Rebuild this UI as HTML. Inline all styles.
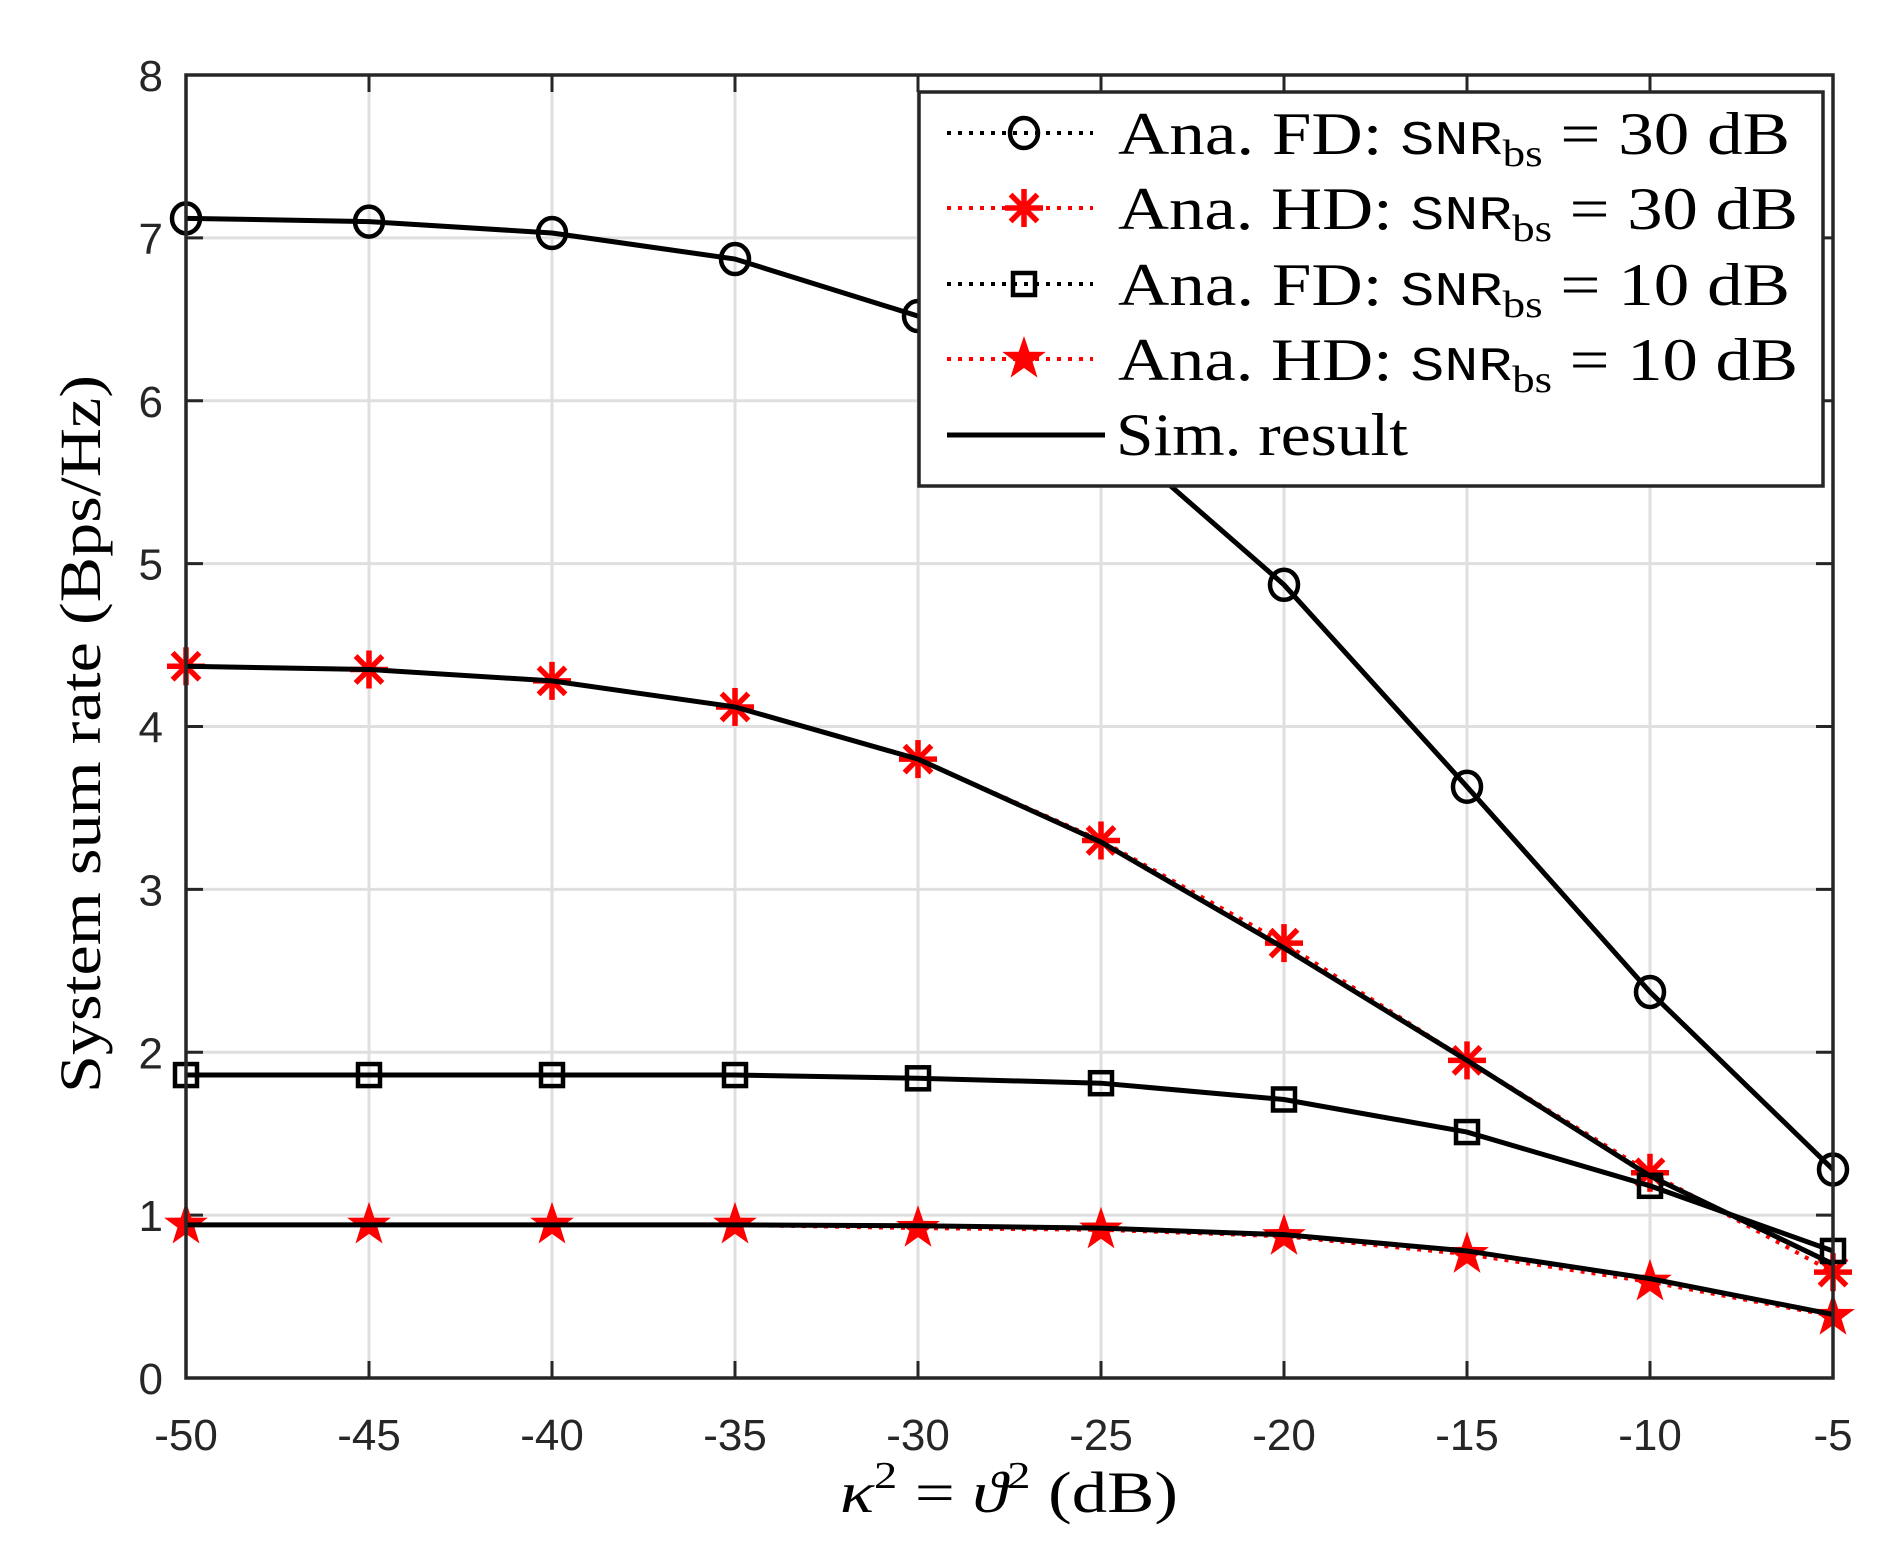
<!DOCTYPE html>
<html><head><meta charset="utf-8"><style>
html,body{margin:0;padding:0;background:#fff;}
svg{display:block;}
.tk{font-family:"Liberation Sans",sans-serif;font-size:44px;fill:#262626;}
.sf{font-family:"Liberation Serif",serif;fill:#000;}
</style></head><body>
<svg id="s" width="1893" height="1566" viewBox="0 0 1893 1566" xmlns="http://www.w3.org/2000/svg"></svg>
<script>
const s=document.getElementById('s');
const L=186,R=1833,T=75,B=1378;
const X=v=>L+(v+50)/45*(R-L), Y=v=>B-v/8*(B-T);
let h='';
for(let i=0;i<10;i++){const x=X(-50+5*i);h+=`<line x1="${x}" y1="${T}" x2="${x}" y2="${B}" stroke="#dfdfdf" stroke-width="3"/>`;}
for(let j=0;j<=8;j++){const y=Y(j);h+=`<line x1="${L}" y1="${y}" x2="${R}" y2="${y}" stroke="#dfdfdf" stroke-width="3"/>`;}
for(let i=0;i<10;i++){const x=X(-50+5*i);h+=`<line x1="${x}" y1="${B}" x2="${x}" y2="${B-17}" stroke="#262626" stroke-width="3"/><line x1="${x}" y1="${T}" x2="${x}" y2="${T+17}" stroke="#262626" stroke-width="3"/>`;
h+=`<text class="tk" x="${x}" y="1450" text-anchor="middle">${-50+5*i}</text>`;}
for(let j=0;j<=8;j++){const y=Y(j);h+=`<line x1="${L}" y1="${y}" x2="${L+17}" y2="${y}" stroke="#262626" stroke-width="3"/><line x1="${R}" y1="${y}" x2="${R-17}" y2="${y}" stroke="#262626" stroke-width="3"/>`;
h+=`<text class="tk" x="163" y="${y+16}" text-anchor="end">${j}</text>`;}
const xs=[-50,-45,-40,-35,-30,-25,-20,-15,-10,-5];
const fd30=[7.12,7.10,7.03,6.87,6.52,5.85,4.87,3.63,2.37,1.28];
const hd30=[4.37,4.35,4.28,4.12,3.80,3.30,2.67,1.95,1.26,0.65];
const hd30s=[4.37,4.35,4.28,4.12,3.80,3.29,2.64,1.95,1.24,0.70];
const fd10=[1.86,1.86,1.86,1.86,1.84,1.81,1.71,1.51,1.18,0.78];
const hd10=[0.94,0.94,0.94,0.94,0.92,0.91,0.87,0.76,0.59,0.38];
const hd10s=[0.94,0.94,0.94,0.94,0.935,0.92,0.88,0.78,0.61,0.39];
const pl=(a)=>xs.map((x,i)=>X(x)+','+Y(a[i])).join(' ');
function circ(x,y){return `<ellipse cx="${x}" cy="${y}" rx="14" ry="15" fill="none" stroke="#000" stroke-width="4.5"/>`;}
function sq(x,y){return `<rect x="${x-11}" y="${y-11}" width="22" height="22" fill="none" stroke="#000" stroke-width="4.5"/>`;}
function ast(x,y){let r=19,o='';for(let k=0;k<4;k++){const a=k*Math.PI/4+Math.PI/2;o+=`<line x1="${x-r*Math.cos(a)}" y1="${y-r*Math.sin(a)}" x2="${x+r*Math.cos(a)}" y2="${y+r*Math.sin(a)}" stroke="#f00" stroke-width="5.5"/>`;}return o;}
function star(x,y){let p=[];for(let k=0;k<10;k++){const r=k%2?9:23;const a=-Math.PI/2+k*Math.PI/5;p.push((x+r*Math.cos(a))+','+(y+r*Math.sin(a)));}return `<polygon points="${p.join(' ')}" fill="#f00"/>`;}
h+=`<polyline points="${pl(hd30)}" fill="none" stroke="#f00" stroke-width="4" stroke-dasharray="4,7"/>`;
h+=`<polyline points="${pl(hd10)}" fill="none" stroke="#f00" stroke-width="4" stroke-dasharray="4,7"/>`;
xs.forEach((x,i)=>{h+=ast(X(x),Y(hd30[i]));h+=star(X(x),Y(hd10[i]));});
[fd30,hd30s,fd10,hd10s].forEach(a=>{h+=`<polyline points="${pl(a)}" fill="none" stroke="#000" stroke-width="5"/>`;});
xs.forEach((x,i)=>{h+=circ(X(x),Y(fd30[i]));h+=sq(X(x),Y(fd10[i]));});
h+=`<rect x="${L}" y="${T}" width="${R-L}" height="${B-T}" fill="none" stroke="#262626" stroke-width="3.5"/>`;
h+=`<rect x="919" y="92" width="904" height="394" fill="#fff" stroke="#262626" stroke-width="3.5"/>`;
const rows=[[133,'FD','30','#000',circ,672],[208,'HD','30','#f00',ast,680],[284,'FD','10','#000',sq,672],[359,'HD','10','#f00',star,680]];
rows.forEach(r=>{h+=`<line x1="947" y1="${r[0]}" x2="1093" y2="${r[0]}" stroke="${r[3]}" stroke-width="4" stroke-dasharray="4,7"/>`;h+=r[4](1024,r[0]);
h+=`<text class="sf" x="1118" y="${r[0]+21}" font-size="60" textLength="${r[5]}" lengthAdjust="spacingAndGlyphs">Ana. ${r[1]}: <tspan font-family="Liberation Mono,monospace" font-size="48">SNR</tspan><tspan font-size="38" dy="12">bs</tspan><tspan dy="-12"> = ${r[2]} dB</tspan></text>`;});
h+=`<line x1="947" y1="435" x2="1105" y2="435" stroke="#000" stroke-width="5"/>`;
h+=`<text class="sf" x="1116" y="455" font-size="60" textLength="292" lengthAdjust="spacingAndGlyphs">Sim. result</text>`;
h+=`<text class="sf" x="840" y="1512" font-size="58" fill="#262626" textLength="338" lengthAdjust="spacingAndGlyphs"><tspan font-style="italic">κ</tspan><tspan font-size="38" dy="-24">2</tspan><tspan dy="24"> = </tspan><tspan font-style="italic">ϑ</tspan><tspan font-size="38" dy="-24">2</tspan><tspan dy="24"> (dB)</tspan></text>`;
h+=`<text class="sf" transform="translate(100,1093) rotate(-90)" font-size="58" fill="#262626" textLength="718" lengthAdjust="spacingAndGlyphs">System sum rate (Bps/Hz)</text>`;
s.innerHTML=h;
</script>
</body></html>
